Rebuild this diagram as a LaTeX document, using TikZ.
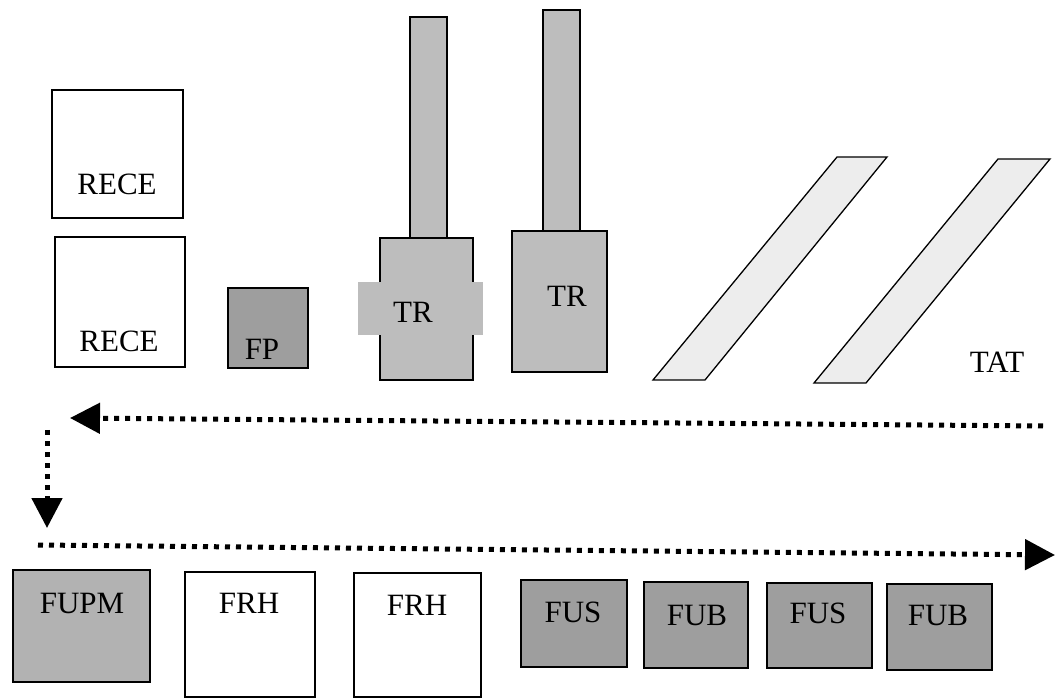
\documentclass[tikz,border=0pt]{standalone}
\usepackage{fontspec}
\setmainfont{Liberation Serif}
\usetikzlibrary{arrows.meta}
\definecolor{towergray}{gray}{0.74}
\definecolor{darkunit}{gray}{0.62}
\definecolor{midunit}{gray}{0.70}
\definecolor{paleband}{gray}{0.93}
\begin{document}
\begin{tikzpicture}[x=1pt,y=-1pt,
  box/.style={draw=black, line width=1.6pt},
  slab/.style={draw=black, line width=1.3pt, fill=paleband},
  lbl/.style={font=\fontsize{31}{32}\selectfont, inner sep=0pt},
  flow/.style={line width=5pt, dash pattern=on 5pt off 6pt,
    -{Triangle[length=30pt,width=30pt]}}]
\useasboundingbox (0,0) rectangle (1055,700);

% receiving boxes
\draw[box] (52,90) rectangle (183,218);
\node[lbl] (rece1) at (117,184) {RECE};
\draw[box] (55,237) rectangle (185,367);
\node[lbl] (rece2) at (119,341) {RECE};

% FP unit
\draw[box, fill=darkunit] (228,288) rectangle (308,368);
\node[lbl] (fp) at (262,349) {FP};

% first tower with a band across its base
\draw[box, fill=towergray] (410,17) rectangle (447,238);
\draw[box, fill=towergray] (380,238) rectangle (473,380);
\fill[towergray] (358,282) rectangle (483,335);
\node[lbl] (tr1) at (413,312) {TR};

% second tower
\draw[box, fill=towergray] (543,10) rectangle (580,231);
\draw[box, fill=towergray] (512,231) rectangle (607,372);
\node[lbl] (tr2) at (567,296) {TR};

% slanted slabs
\draw[slab] (653,380) -- (837,157) -- (887,157) -- (705,380) -- cycle;
\draw[slab] (814,383) -- (998,159) -- (1050,159) -- (866,383) -- cycle;
\node[lbl] (tat) at (997,362) {TAT};

% flow arrows
\coordinate (topR) at (1043,426);
\coordinate (topL) at (70,418);
\coordinate (downA) at (47,430);
\coordinate (downB) at (47,528);
\coordinate (botL) at (38,545);
\coordinate (botR) at (1055,555);
\draw[flow] (topR) -- (topL);
\draw[flow] (downA) -- (downB);
\draw[flow] (botL) -- (botR);

% bottom row of units
\draw[box, fill=midunit] (13,570) rectangle (150,682);
\node[lbl] (fupm) at (82,603) {FUPM};
\draw[box] (185,572) rectangle (315,697);
\node[lbl] (frh1) at (249,603) {FRH};
\draw[box] (354,573) rectangle (481,697);
\node[lbl] (frh2) at (417,605) {FRH};
\draw[box, fill=darkunit] (521,580) rectangle (627,667);
\node[lbl] (fus1) at (573,612) {FUS};
\draw[box, fill=darkunit] (644,582) rectangle (748,668);
\node[lbl] (fub1) at (697,615) {FUB};
\draw[box, fill=darkunit] (767,583) rectangle (872,668);
\node[lbl] (fus2) at (818,613) {FUS};
\draw[box, fill=darkunit] (887,584) rectangle (992,670);
\node[lbl] (fub2) at (938,615) {FUB};
\end{tikzpicture}
\end{document}
